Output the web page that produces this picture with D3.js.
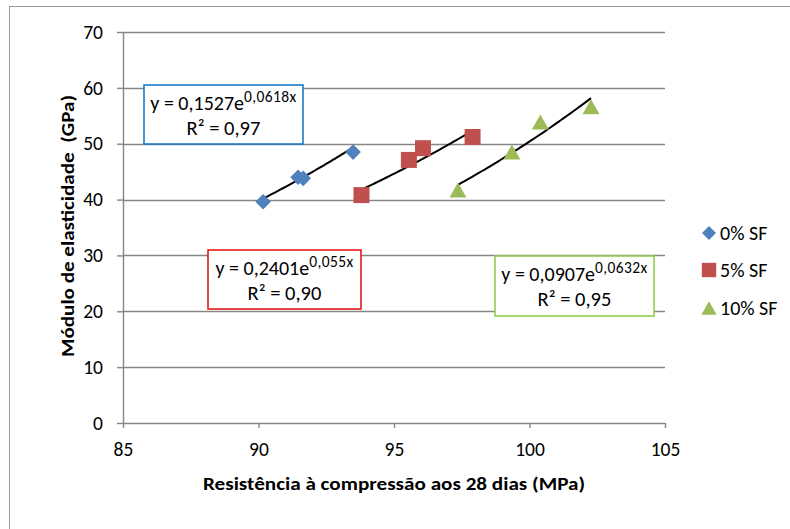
<!DOCTYPE html>
<html>
<head>
<meta charset="utf-8">
<script src="https://cdn.jsdelivr.net/npm/d3@7"></script>
<style>
  body { margin: 0; background: #fff; }
  svg text { font-family: Calibri, Carlito, Lato, sans-serif; fill: #000; }
</style>
</head>
<body>
<svg id="chart"></svg>
<script>
// series
var seriesNames = ["0% SF", "5% SF", "10% SF"]
var x0 = [90.17, 91.46, 91.65, 93.49]
var y0 = [39.6, 44.0, 43.8, 48.5]
var x5 = [93.8, 95.55, 96.07, 97.9]
var y5 = [40.8, 47.1, 49.2, 51.2]
var x10 = [97.36, 99.35, 100.4, 102.27]
var y10 = [41.7, 48.5, 53.9, 56.6]

// exponential trendlines y = a * e^(b x)
var trendA = [0.1527, 0.2401, 0.0907]
var trendB = [0.0618, 0.055, 0.0632]
var trendALabel = ["0,1527", "0,2401", "0,0907"]
var trendBLabel = ["0,0618x", "0,055x", "0,0632x"]
var r2Label = ["0,97", "0,90", "0,95"]

var xTicks = [85, 90, 95, 100, 105]
var yTicks = [0, 10, 20, 30, 40, 50, 60, 70]

var xTitle = "Resistência à compressão aos 28 dias (MPa)"
var yTitle = "Módulo de elasticidade  (GPa)"

var dimensions = {
  width: 790,
  height: 529,
  plot: { left: 123, right: 665, top: 32, bottom: 423 }
}

var colors = ["#4F81BD", "#C0504D", "#9BBB59"]
var boxColors = ["#1A7CC8", "#E01B1B", "#92D050"]
var axisColor = "#868686"

// annotation boxes (pixel placement)
var boxes = [
  { x: 144, y: 85, w: 159, h: 59 },
  { x: 208, y: 250, w: 153, h: 59 },
  { x: 495, y: 256, w: 159, h: 60 }
]

var xs = [x0, x5, x10]
var ys = [y0, y5, y10]
var dataset = seriesNames.map(function(name, i) {
  return {
    name: name,
    points: xs[i].map(function(x, j) { return { x: x, y: ys[i][j] } })
  }
})

var svg = d3.select("#chart")
  .attr("width", dimensions.width)
  .attr("height", dimensions.height)

// outer chart border (only top/left visible in the crop)
svg.append("rect")
  .attr("x", 9.5)
  .attr("y", 6.5)
  .attr("width", 800)
  .attr("height", 540)
  .attr("fill", "none")
  .attr("stroke", "#9a9a9a")

var xScale = d3.scaleLinear()
  .domain([85, 105])
  .range([dimensions.plot.left, dimensions.plot.right])

var yScale = d3.scaleLinear()
  .domain([0, 70])
  .range([dimensions.plot.bottom, dimensions.plot.top])

// gridlines
svg.append("g")
  .selectAll("line")
  .data(yTicks.filter(function(d) { return d > 0 }))
  .enter()
  .append("line")
  .attr("x1", xScale(85))
  .attr("x2", xScale(105))
  .attr("y1", function(d) { return Math.round(yScale(d)) + 0.5 })
  .attr("y2", function(d) { return Math.round(yScale(d)) + 0.5 })
  .attr("stroke", axisColor)
  .attr("stroke-width", 1.4)

var xAxis = d3.axisBottom(xScale)
  .tickValues(xTicks)
  .tickSizeInner(5)
  .tickSizeOuter(0)
  .tickPadding(14)

var gx = svg.append("g")
  .attr("transform", "translate(0," + yScale(0) + ")")
  .call(xAxis)

var yAxis = d3.axisLeft(yScale)
  .tickValues(yTicks)
  .tickSizeInner(6)
  .tickSizeOuter(0)
  .tickPadding(14)

var gy = svg.append("g")
  .attr("transform", "translate(" + xScale(85) + ",0)")
  .call(yAxis)

;[gx, gy].forEach(function(g) {
  g.selectAll("path, line").attr("stroke", axisColor).attr("stroke-width", 1.4)
  g.selectAll("text")
    .style("font-size", "19.5px")
    .style("font-family", "Calibri, Carlito, Lato, sans-serif")
    .attr("fill", "#000")
})

// trendlines
var line = d3.line()
  .x(function(d) { return xScale(d[0]) })
  .y(function(d) { return yScale(d[1]) })

dataset.forEach(function(s, i) {
  var ext = d3.extent(s.points, function(d) { return d.x })
  var pts = d3.range(0, 41).map(function(k) {
    var x = ext[0] + (ext[1] - ext[0]) * k / 40
    return [x, trendA[i] * Math.exp(trendB[i] * x)]
  })
  svg.append("path")
    .attr("d", line(pts))
    .attr("fill", "none")
    .attr("stroke", "#000")
    .attr("stroke-width", 2)
})

// marker shapes
function markerPath(i) {
  if (i == 0) return "M0,-7.8L7.8,0L0,7.8L-7.8,0Z"
  if (i == 1) return "M-8,-8H8V8H-8Z"
  return "M0,-7.5L8.5,7.5H-8.5Z"
}

dataset.forEach(function(s, i) {
  svg.append("g")
    .selectAll("path")
    .data(s.points)
    .enter()
    .append("path")
    .attr("d", markerPath(i))
    .attr("transform", function(d) { return "translate(" + xScale(d.x) + "," + yScale(d.y) + ")" })
    .attr("fill", colors[i])
})

// equation boxes
boxes.forEach(function(b, i) {
  var g = svg.append("g")
  g.append("rect")
    .attr("x", b.x)
    .attr("y", b.y)
    .attr("width", b.w)
    .attr("height", b.h)
    .attr("fill", "#fff")
    .attr("stroke", boxColors[i])
    .attr("stroke-width", 1.6)

  var t1 = g.append("text")
    .attr("x", b.x + b.w / 2)
    .attr("y", b.y + 25)
    .attr("text-anchor", "middle")
    .style("font-size", "20px")
  t1.append("tspan").text("y = " + trendALabel[i] + "e")
  t1.append("tspan")
    .attr("dy", -8)
    .style("font-size", "15.5px")
    .style("letter-spacing", "0.4px")
    .text(trendBLabel[i])

  g.append("text")
    .attr("x", b.x + b.w / 2)
    .attr("y", b.y + 50)
    .attr("text-anchor", "middle")
    .style("font-size", "20.5px")
    .text("R² = " + r2Label[i])
})

// legend
var legendY = [233, 270, 308]
dataset.forEach(function(s, i) {
  svg.append("path")
    .attr("d", markerPath(i))
    .attr("transform", "translate(709," + legendY[i] + ") scale(0.9)")
    .attr("fill", colors[i])
  svg.append("text")
    .attr("x", 720)
    .attr("y", legendY[i])
    .attr("dy", "0.36em")
    .style("font-size", "20px")
    .text(s.name)
})

// axis titles
svg.append("text")
  .attr("x", 394)
  .attr("y", 490)
  .attr("text-anchor", "middle")
  .attr("textLength", 382)
  .attr("lengthAdjust", "spacingAndGlyphs")
  .style("font-size", "19px")
  .style("font-weight", "bold")
  .text(xTitle)

svg.append("text")
  .attr("transform", "translate(74,226) rotate(-90)")
  .attr("text-anchor", "middle")
  .attr("textLength", 262)
  .attr("lengthAdjust", "spacingAndGlyphs")
  .style("font-size", "19px")
  .style("font-weight", "bold")
  .style("white-space", "pre")
  .text(yTitle)
</script>
</body>
</html>
